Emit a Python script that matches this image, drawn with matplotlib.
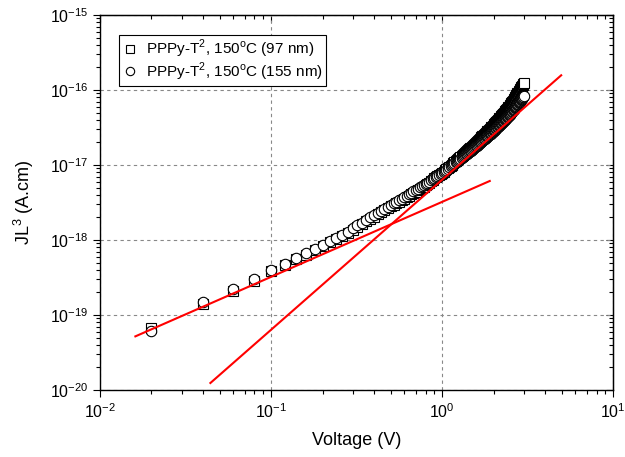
import matplotlib
matplotlib.use("Agg")
import matplotlib.pyplot as plt
import numpy as np

plt.rcParams['font.family'] = ['Liberation Sans', 'DejaVu Sans']
plt.rcParams['mathtext.fontset'] = 'custom'
plt.rcParams['mathtext.rm'] = 'Liberation Sans'

# voltage (V)
voltage = [
    0.02, 0.04, 0.06, 0.08, 0.10, 0.12, 0.14, 0.16, 0.18, 0.20,
    0.22, 0.24, 0.26, 0.28, 0.30, 0.32, 0.34, 0.36, 0.38, 0.40,
    0.42, 0.44, 0.46, 0.48, 0.50, 0.52, 0.54, 0.56, 0.58, 0.60,
    0.62, 0.64, 0.66, 0.68, 0.70, 0.72, 0.74, 0.76, 0.78, 0.80,
    0.82, 0.84, 0.86, 0.88, 0.90, 0.92, 0.94, 0.96, 0.98, 1.00,
    1.02, 1.04, 1.06, 1.08, 1.10, 1.12, 1.14, 1.16, 1.18, 1.20,
    1.22, 1.24, 1.26, 1.28, 1.30, 1.32, 1.34, 1.36, 1.38, 1.40,
    1.42, 1.44, 1.46, 1.48, 1.50, 1.52, 1.54, 1.56, 1.58, 1.60,
    1.62, 1.64, 1.66, 1.68, 1.70, 1.72, 1.74, 1.76, 1.78, 1.80,
    1.82, 1.84, 1.86, 1.88, 1.90, 1.92, 1.94, 1.96, 1.98, 2.00,
    2.02, 2.04, 2.06, 2.08, 2.10, 2.12, 2.14, 2.16, 2.18, 2.20,
    2.22, 2.24, 2.26, 2.28, 2.30, 2.32, 2.34, 2.36, 2.38, 2.40,
    2.42, 2.44, 2.46, 2.48, 2.50, 2.52, 2.54, 2.56, 2.58, 2.60,
    2.62, 2.64, 2.66, 2.68, 2.70, 2.72, 2.74, 2.76, 2.78, 2.80,
    2.82, 2.84, 2.86, 2.88, 2.90, 2.92, 2.94, 2.96, 2.98, 3.00,
]

# log10(JL^3), 97 nm film (squares)
log_jl3_97 = [
    -19.169, -18.853, -18.677, -18.544, -18.416, -18.340, -18.256, -18.197, -18.136, -18.083,
    -18.029, -17.993, -17.953, -17.909, -17.864, -17.825, -17.787, -17.752, -17.719, -17.688,
    -17.658, -17.630, -17.602, -17.576, -17.553, -17.530, -17.509, -17.488, -17.468, -17.448,
    -17.429, -17.409, -17.390, -17.372, -17.354, -17.337, -17.320, -17.303, -17.287, -17.272,
    -17.253, -17.234, -17.214, -17.195, -17.176, -17.161, -17.146, -17.132, -17.118, -17.105,
    -17.088, -17.072, -17.056, -17.041, -17.025, -17.009, -16.994, -16.979, -16.965, -16.950,
    -16.936, -16.923, -16.908, -16.895, -16.882, -16.868, -16.856, -16.842, -16.830, -16.817,
    -16.805, -16.793, -16.780, -16.769, -16.757, -16.743, -16.731, -16.718, -16.706, -16.693,
    -16.680, -16.669, -16.656, -16.645, -16.632, -16.620, -16.609, -16.597, -16.586, -16.575,
    -16.563, -16.553, -16.541, -16.531, -16.520, -16.509, -16.499, -16.488, -16.478, -16.467,
    -16.455, -16.444, -16.433, -16.422, -16.410, -16.399, -16.388, -16.377, -16.367, -16.356,
    -16.345, -16.335, -16.324, -16.314, -16.303, -16.293, -16.283, -16.273, -16.263, -16.253,
    -16.243, -16.233, -16.223, -16.214, -16.204, -16.191, -16.179, -16.166, -16.154, -16.142,
    -16.129, -16.117, -16.105, -16.093, -16.081, -16.070, -16.058, -16.046, -16.034, -16.023,
    -16.011, -16.000, -15.989, -15.977, -15.966, -15.955, -15.944, -15.933, -15.922, -15.911,
]

# log10(JL^3), 155 nm film (circles)
log_jl3_155 = [
    -19.213, -18.833, -18.657, -18.524, -18.396, -18.320, -18.236, -18.177, -18.116, -18.063,
    -18.009, -17.973, -17.933, -17.889, -17.844, -17.805, -17.767, -17.732, -17.699, -17.668,
    -17.638, -17.610, -17.582, -17.556, -17.533, -17.510, -17.489, -17.468, -17.448, -17.428,
    -17.409, -17.389, -17.370, -17.352, -17.334, -17.317, -17.300, -17.283, -17.267, -17.252,
    -17.237, -17.222, -17.206, -17.191, -17.176, -17.161, -17.146, -17.132, -17.118, -17.105,
    -17.090, -17.075, -17.061, -17.047, -17.033, -17.019, -17.005, -16.992, -16.979, -16.966,
    -16.954, -16.942, -16.929, -16.917, -16.906, -16.894, -16.883, -16.871, -16.860, -16.849,
    -16.839, -16.828, -16.817, -16.807, -16.797, -16.785, -16.774, -16.763, -16.752, -16.741,
    -16.730, -16.720, -16.709, -16.699, -16.688, -16.678, -16.668, -16.658, -16.648, -16.639,
    -16.629, -16.620, -16.610, -16.601, -16.592, -16.583, -16.574, -16.565, -16.556, -16.547,
    -16.537, -16.527, -16.518, -16.508, -16.498, -16.489, -16.479, -16.470, -16.461, -16.452,
    -16.443, -16.434, -16.425, -16.416, -16.407, -16.399, -16.390, -16.382, -16.373, -16.365,
    -16.357, -16.348, -16.340, -16.332, -16.324, -16.313, -16.303, -16.292, -16.282, -16.272,
    -16.261, -16.251, -16.241, -16.231, -16.221, -16.212, -16.202, -16.192, -16.182, -16.173,
    -16.163, -16.154, -16.145, -16.135, -16.126, -16.117, -16.108, -16.099, -16.090, -16.081,
]

# fitted red lines (end points)
ohmic_v = [0.0161, 1.90]
ohmic_jl3 = [5.19e-20, 6.12e-18]
sclc_v = [0.0442, 4.97]
sclc_jl3 = [1.24e-20, 1.57e-16]

labels = [r'PPPy-T$^\mathdefault{2}$, 150$^\mathdefault{o}$C (97 nm)',
          r'PPPy-T$^\mathdefault{2}$, 150$^\mathdefault{o}$C (155 nm)']

v = np.array(voltage)
y97 = 10 ** np.array(log_jl3_97)
y155 = 10 ** np.array(log_jl3_155)

fig = plt.figure(figsize=(6.25, 4.57), dpi=100)
ax = fig.add_axes([0.16, 0.1466, 0.821, 0.8206])

ax.plot(v, y97, ls='none', marker='s', ms=6.8, mfc='white', mec='black',
        mew=0.8, label=labels[0], zorder=3)
ax.plot(v, y155, ls='none', marker='o', ms=7.5, mfc='white', mec='black',
        mew=0.8, label=labels[1], zorder=4)
ax.plot(ohmic_v, ohmic_jl3, color='red', lw=1.5, zorder=5)
ax.plot(sclc_v, sclc_jl3, color='red', lw=1.5, zorder=5)

ax.set_xscale('log')
ax.set_yscale('log')
ax.set_xlim(1e-2, 1e1)
ax.set_ylim(1e-20, 1e-15)

ax.grid(True, which='major', color='#888888', ls=(0, (3, 3)), lw=0.8)
ax.tick_params(which='both', direction='out', top=False, right=False,
               labelsize=11.5)
ax.tick_params(which='major', length=5, width=0.8)
ax.tick_params(which='minor', length=3, width=0.8)
for s in ax.spines.values():
    s.set_linewidth(1.0)

secx = ax.secondary_xaxis('top')
secx.tick_params(which='both', direction='in', labeltop=False)
secx.tick_params(which='major', length=5, width=0.8)
secx.tick_params(which='minor', length=3, width=0.8)
secy = ax.secondary_yaxis('right')
secy.tick_params(which='both', direction='in', labelright=False)
secy.tick_params(which='major', length=5, width=0.8)
secy.tick_params(which='minor', length=3, width=0.8)

ax.set_xlabel('Voltage (V)', fontsize=13, labelpad=8)
ax.set_ylabel(r'JL$^\mathdefault{3}$ (A.cm)', fontsize=13, labelpad=10)

leg = ax.legend(loc='upper left', bbox_to_anchor=(0.037, 0.947),
                borderaxespad=0, fontsize=11, fancybox=False,
                edgecolor='black', framealpha=1, handletextpad=0.6,
                borderpad=0.2, labelspacing=0.0, markerscale=0.8,
                handlelength=1.0)
leg.get_frame().set_linewidth(0.8)

fig.savefig('out.png', dpi=100)
